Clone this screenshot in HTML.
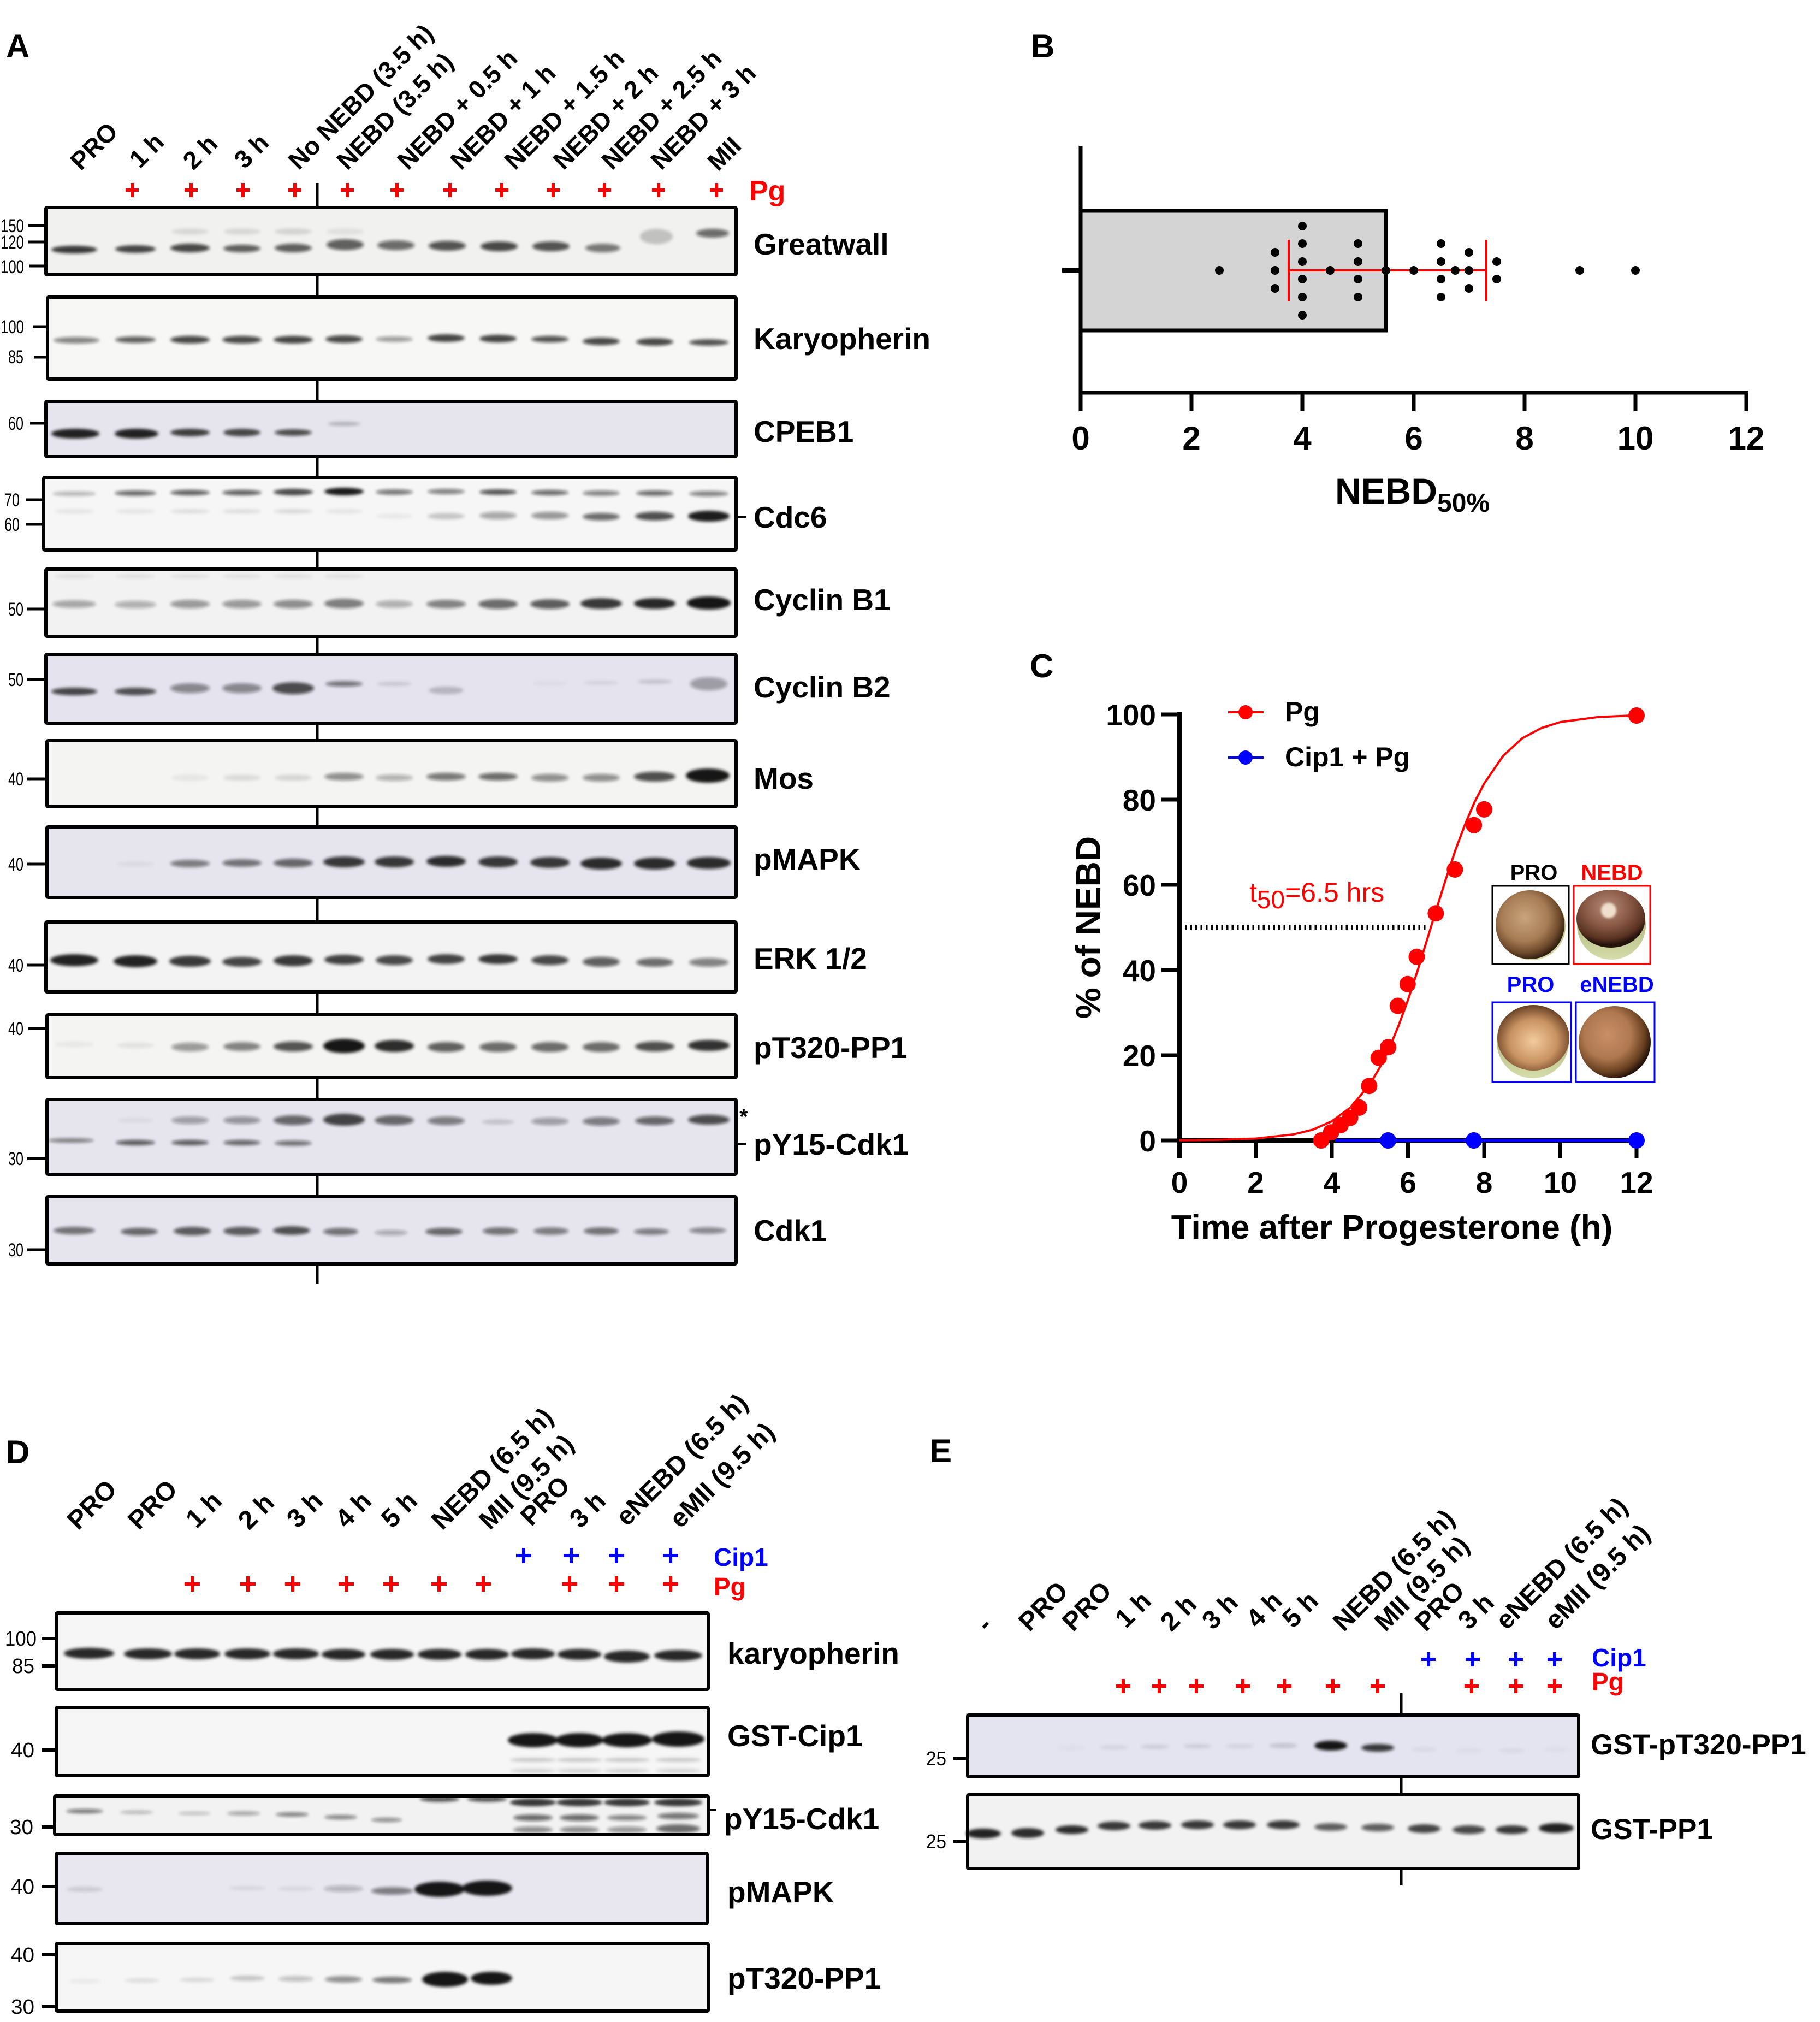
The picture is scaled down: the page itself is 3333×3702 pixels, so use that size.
<!DOCTYPE html>
<html><head><meta charset="utf-8">
<style>
html,body{margin:0;padding:0;background:#fff;}
svg{display:block;}
text{font-family:"Liberation Sans",Arial,sans-serif;}
.b{font-weight:bold;}
</style></head>
<body>
<svg xmlns="http://www.w3.org/2000/svg" width="3333" height="3702" viewBox="0 0 3333 3702">
<defs>
<filter id="bl" x="-5%" y="-150%" width="110%" height="400%"><feGaussianBlur stdDeviation="3"/></filter>
<filter id="bl2" x="-50%" y="-50%" width="200%" height="200%"><feGaussianBlur stdDeviation="2"/></filter>
<radialGradient id="eg1" cx="0.42" cy="0.4" r="0.62">
<stop offset="0" stop-color="#c9a47c"/><stop offset="0.55" stop-color="#a67c55"/><stop offset="0.82" stop-color="#6e4a2c"/><stop offset="1" stop-color="#2e1c0e"/></radialGradient>
<radialGradient id="eg2" cx="0.45" cy="0.3" r="0.65">
<stop offset="0" stop-color="#b48a78"/><stop offset="0.5" stop-color="#8a5a46"/><stop offset="0.85" stop-color="#5a3222"/><stop offset="1" stop-color="#24140c"/></radialGradient>
<radialGradient id="eg3" cx="0.5" cy="0.55" r="0.6">
<stop offset="0" stop-color="#f2cc9e"/><stop offset="0.55" stop-color="#c99262"/><stop offset="0.85" stop-color="#7a5030"/><stop offset="1" stop-color="#3e2612"/></radialGradient>
<radialGradient id="eg4" cx="0.4" cy="0.4" r="0.65">
<stop offset="0" stop-color="#c99068"/><stop offset="0.5" stop-color="#b07850"/><stop offset="0.8" stop-color="#684020"/><stop offset="1" stop-color="#140804"/></radialGradient>
<linearGradient id="grn" x1="0" y1="0" x2="0" y2="1"><stop offset="0" stop-color="#9aa060"/><stop offset="1" stop-color="#d6dcaa"/></linearGradient>
</defs>

<!-- Panel letters -->
<g class="b" font-size="60">
<text x="11" y="105">A</text>
<text x="1888" y="105">B</text>
<text x="1886" y="1240">C</text>
<text x="11" y="2679">D</text>
<text x="1703" y="2677">E</text>
</g>

<!-- ================= PANEL A ================= -->
<g class="b" font-size="46">
<text transform="translate(148,314) rotate(-45)">PRO</text>
<text transform="translate(256,310) rotate(-45)">1 h</text>
<text transform="translate(354,313) rotate(-45)">2 h</text>
<text transform="translate(448,311) rotate(-45)">3 h</text>
<text transform="translate(547,313) rotate(-45)">No NEBD (3.5 h)</text>
<text transform="translate(636,313) rotate(-45)">NEBD (3.5 h)</text>
<text transform="translate(747,313) rotate(-45)">NEBD + 0.5 h</text>
<text transform="translate(844,313) rotate(-45)">NEBD + 1 h</text>
<text transform="translate(943,313) rotate(-45)">NEBD + 1.5 h</text>
<text transform="translate(1032,313) rotate(-45)">NEBD + 2 h</text>
<text transform="translate(1121,313) rotate(-45)">NEBD + 2.5 h</text>
<text transform="translate(1211,313) rotate(-45)">NEBD + 3 h</text>
<text transform="translate(1315,315) rotate(-45)">MII</text>
</g>
<g stroke="#f00" stroke-width="6" fill="none">
<path d="M230 348H254M242 335V361M338 348H362M350 335V361M433 348H457M445 335V361M528 348H552M540 335V361M624 348H648M636 335V361M715 348H739M727 335V361M812 348H836M824 335V361M907 348H931M919 335V361M1001 348H1025M1013 335V361M1095 348H1119M1107 335V361M1194 348H1218M1206 335V361M1300 348H1324M1312 335V361"/>
</g>
<text class="b" x="1372" y="367" font-size="52" fill="#f00">Pg</text>

<!-- divider -->
<line x1="581" y1="335" x2="581" y2="2350" stroke="#000" stroke-width="5"/>

<!-- blot boxes backgrounds -->
<g stroke="none">
<rect x="84" y="377" width="1264" height="129" fill="#f1f1f0"/>
<rect x="84" y="541" width="1264" height="156" fill="#f7f7f5"/>
<rect x="84" y="732" width="1264" height="107" fill="#e6e5ee"/>
<rect x="78" y="871" width="1270" height="139" fill="#f6f6f6"/>
<rect x="84" y="1039" width="1264" height="129" fill="#f2f2f2"/>
<rect x="84" y="1195" width="1264" height="132" fill="#e4e3ee"/>
<rect x="84" y="1353" width="1264" height="127" fill="#f4f4f2"/>
<rect x="84" y="1511" width="1264" height="135" fill="#e6e5ee"/>
<rect x="84" y="1685" width="1264" height="134" fill="#f3f3f3"/>
<rect x="84" y="1855" width="1264" height="121" fill="#f4f4f2"/>
<rect x="84" y="2010" width="1264" height="143" fill="#e6e5ee"/>
<rect x="84" y="2188" width="1264" height="129" fill="#e6e5ee"/>
</g>

<!-- Bands A -->
<g fill="#161616" filter="url(#bl)">
<ellipse cx="136" cy="457" rx="42" ry="7" fill-opacity=".85"/>
<ellipse cx="248" cy="456" rx="37" ry="7" fill-opacity=".8"/>
<ellipse cx="348" cy="454" rx="36" ry="8" fill-opacity=".75"/>
<ellipse cx="443" cy="455" rx="34" ry="7" fill-opacity=".65"/>
<ellipse cx="537" cy="454" rx="34" ry="8" fill-opacity=".65"/>
<ellipse cx="632" cy="448" rx="34" ry="10" fill-opacity=".65"/>
<ellipse cx="725" cy="449" rx="34" ry="9" fill-opacity=".6"/>
<ellipse cx="819" cy="450" rx="34" ry="9" fill-opacity=".7"/>
<ellipse cx="914" cy="451" rx="34" ry="9" fill-opacity=".75"/>
<ellipse cx="1009" cy="451" rx="34" ry="9" fill-opacity=".7"/>
<ellipse cx="1104" cy="454" rx="32" ry="8" fill-opacity=".55"/>
<ellipse cx="1202" cy="433" rx="30" ry="14" fill-opacity=".2"/>
<ellipse cx="1305" cy="427" rx="30" ry="8" fill-opacity=".6"/>
<ellipse cx="348" cy="424" rx="34" ry="6" fill-opacity=".1"/>
<ellipse cx="443" cy="424" rx="34" ry="6" fill-opacity=".1"/>
<ellipse cx="537" cy="424" rx="34" ry="6" fill-opacity=".12"/>
<ellipse cx="632" cy="424" rx="34" ry="6" fill-opacity=".07"/>
</g>
<g fill="#161616" filter="url(#bl)">
<ellipse cx="140" cy="623" rx="42" ry="6" fill-opacity=".5"/>
<ellipse cx="248" cy="622" rx="37" ry="6" fill-opacity=".65"/>
<ellipse cx="348" cy="622" rx="36" ry="7" fill-opacity=".75"/>
<ellipse cx="443" cy="622" rx="36" ry="7" fill-opacity=".75"/>
<ellipse cx="537" cy="622" rx="36" ry="7" fill-opacity=".8"/>
<ellipse cx="630" cy="621" rx="34" ry="7" fill-opacity=".75"/>
<ellipse cx="722" cy="621" rx="34" ry="5" fill-opacity=".4"/>
<ellipse cx="817" cy="619" rx="34" ry="7" fill-opacity=".8"/>
<ellipse cx="912" cy="620" rx="34" ry="7" fill-opacity=".8"/>
<ellipse cx="1007" cy="621" rx="34" ry="6" fill-opacity=".7"/>
<ellipse cx="1101" cy="625" rx="34" ry="7" fill-opacity=".75"/>
<ellipse cx="1199" cy="626" rx="34" ry="7" fill-opacity=".75"/>
<ellipse cx="1298" cy="627" rx="36" ry="6" fill-opacity=".7"/>
</g>
<g fill="#161616" filter="url(#bl)">
<ellipse cx="138" cy="794" rx="44" ry="9" fill-opacity=".95"/>
<ellipse cx="250" cy="794" rx="40" ry="9" fill-opacity=".95"/>
<ellipse cx="348" cy="792" rx="36" ry="7" fill-opacity=".82"/>
<ellipse cx="443" cy="792" rx="34" ry="7" fill-opacity=".78"/>
<ellipse cx="537" cy="792" rx="34" ry="6" fill-opacity=".72"/>
<ellipse cx="630" cy="776" rx="30" ry="4" fill-opacity=".22"/>
</g>
<g fill="#161616" filter="url(#bl)">
<ellipse cx="136" cy="904" rx="40" ry="4" fill-opacity=".3"/>
<ellipse cx="248" cy="903" rx="38" ry="5" fill-opacity=".6"/>
<ellipse cx="348" cy="902" rx="36" ry="5" fill-opacity=".65"/>
<ellipse cx="443" cy="902" rx="36" ry="5" fill-opacity=".65"/>
<ellipse cx="537" cy="901" rx="36" ry="6" fill-opacity=".78"/>
<ellipse cx="630" cy="900" rx="36" ry="7" fill-opacity=".98"/>
<ellipse cx="722" cy="901" rx="34" ry="5" fill-opacity=".55"/>
<ellipse cx="817" cy="900" rx="34" ry="5" fill-opacity=".5"/>
<ellipse cx="912" cy="901" rx="34" ry="5" fill-opacity=".7"/>
<ellipse cx="1007" cy="902" rx="34" ry="5" fill-opacity=".6"/>
<ellipse cx="1101" cy="903" rx="34" ry="5" fill-opacity=".5"/>
<ellipse cx="1199" cy="903" rx="34" ry="5" fill-opacity=".6"/>
<ellipse cx="1298" cy="904" rx="36" ry="5" fill-opacity=".5"/>
<ellipse cx="136" cy="936" rx="36" ry="4" fill-opacity=".08"/>
<ellipse cx="248" cy="936" rx="36" ry="4" fill-opacity=".08"/>
<ellipse cx="348" cy="936" rx="36" ry="4" fill-opacity=".1"/>
<ellipse cx="443" cy="936" rx="36" ry="4" fill-opacity=".1"/>
<ellipse cx="537" cy="936" rx="36" ry="4" fill-opacity=".12"/>
<ellipse cx="630" cy="936" rx="34" ry="4" fill-opacity=".08"/>
<ellipse cx="722" cy="945" rx="34" ry="5" fill-opacity=".05"/>
<ellipse cx="817" cy="945" rx="34" ry="6" fill-opacity=".2"/>
<ellipse cx="912" cy="944" rx="34" ry="7" fill-opacity=".35"/>
<ellipse cx="1007" cy="944" rx="34" ry="7" fill-opacity=".42"/>
<ellipse cx="1101" cy="946" rx="34" ry="7" fill-opacity=".6"/>
<ellipse cx="1199" cy="945" rx="36" ry="8" fill-opacity=".72"/>
<ellipse cx="1298" cy="945" rx="38" ry="10" fill-opacity=".97"/>
</g>
<g fill="#161616" filter="url(#bl)">
<ellipse cx="136" cy="1106" rx="40" ry="7" fill-opacity=".35"/>
<ellipse cx="248" cy="1107" rx="38" ry="7" fill-opacity=".3"/>
<ellipse cx="348" cy="1106" rx="36" ry="8" fill-opacity=".4"/>
<ellipse cx="443" cy="1106" rx="36" ry="8" fill-opacity=".4"/>
<ellipse cx="537" cy="1106" rx="36" ry="8" fill-opacity=".45"/>
<ellipse cx="630" cy="1105" rx="36" ry="9" fill-opacity=".52"/>
<ellipse cx="722" cy="1106" rx="34" ry="7" fill-opacity=".3"/>
<ellipse cx="817" cy="1106" rx="36" ry="8" fill-opacity=".5"/>
<ellipse cx="912" cy="1106" rx="36" ry="9" fill-opacity=".6"/>
<ellipse cx="1007" cy="1106" rx="36" ry="9" fill-opacity=".66"/>
<ellipse cx="1101" cy="1105" rx="38" ry="10" fill-opacity=".85"/>
<ellipse cx="1199" cy="1105" rx="38" ry="10" fill-opacity=".92"/>
<ellipse cx="1298" cy="1104" rx="40" ry="12" fill-opacity="1"/>
<ellipse cx="136" cy="1055" rx="36" ry="4" fill-opacity=".08"/>
<ellipse cx="248" cy="1055" rx="36" ry="4" fill-opacity=".08"/>
<ellipse cx="348" cy="1055" rx="36" ry="4" fill-opacity=".08"/>
<ellipse cx="443" cy="1055" rx="36" ry="4" fill-opacity=".08"/>
<ellipse cx="537" cy="1055" rx="36" ry="4" fill-opacity=".08"/>
<ellipse cx="630" cy="1055" rx="36" ry="4" fill-opacity=".08"/>
</g>
<g fill="#161616" filter="url(#bl)">
<ellipse cx="136" cy="1266" rx="42" ry="7" fill-opacity=".75"/>
<ellipse cx="248" cy="1266" rx="38" ry="7" fill-opacity=".7"/>
<ellipse cx="348" cy="1260" rx="36" ry="9" fill-opacity=".45"/>
<ellipse cx="443" cy="1260" rx="36" ry="9" fill-opacity=".45"/>
<ellipse cx="537" cy="1260" rx="38" ry="11" fill-opacity=".72"/>
<ellipse cx="630" cy="1252" rx="34" ry="5" fill-opacity=".55"/>
<ellipse cx="722" cy="1252" rx="32" ry="4" fill-opacity=".12"/>
<ellipse cx="817" cy="1264" rx="32" ry="7" fill-opacity=".2"/>
<ellipse cx="1007" cy="1251" rx="32" ry="4" fill-opacity=".04"/>
<ellipse cx="1101" cy="1250" rx="32" ry="4" fill-opacity=".07"/>
<ellipse cx="1199" cy="1248" rx="32" ry="4" fill-opacity=".14"/>
<ellipse cx="1298" cy="1252" rx="34" ry="12" fill-opacity=".35"/>
</g>
<g fill="#161616" filter="url(#bl)">
<ellipse cx="348" cy="1424" rx="34" ry="6" fill-opacity=".06"/>
<ellipse cx="443" cy="1424" rx="34" ry="6" fill-opacity=".1"/>
<ellipse cx="537" cy="1424" rx="34" ry="6" fill-opacity=".12"/>
<ellipse cx="630" cy="1422" rx="36" ry="7" fill-opacity=".45"/>
<ellipse cx="722" cy="1424" rx="34" ry="6" fill-opacity=".3"/>
<ellipse cx="817" cy="1422" rx="36" ry="7" fill-opacity=".55"/>
<ellipse cx="912" cy="1422" rx="36" ry="7" fill-opacity=".6"/>
<ellipse cx="1007" cy="1424" rx="34" ry="7" fill-opacity=".45"/>
<ellipse cx="1101" cy="1424" rx="34" ry="7" fill-opacity=".45"/>
<ellipse cx="1199" cy="1422" rx="38" ry="9" fill-opacity=".72"/>
<ellipse cx="1296" cy="1420" rx="40" ry="13" fill-opacity="1"/>
</g>
<g fill="#161616" filter="url(#bl)">
<ellipse cx="248" cy="1582" rx="34" ry="5" fill-opacity=".05"/>
<ellipse cx="348" cy="1581" rx="36" ry="7" fill-opacity=".5"/>
<ellipse cx="443" cy="1580" rx="36" ry="7" fill-opacity=".55"/>
<ellipse cx="537" cy="1580" rx="36" ry="8" fill-opacity=".6"/>
<ellipse cx="630" cy="1578" rx="38" ry="10" fill-opacity=".85"/>
<ellipse cx="722" cy="1578" rx="36" ry="10" fill-opacity=".85"/>
<ellipse cx="817" cy="1577" rx="36" ry="10" fill-opacity=".9"/>
<ellipse cx="912" cy="1578" rx="36" ry="10" fill-opacity=".85"/>
<ellipse cx="1007" cy="1579" rx="36" ry="10" fill-opacity=".85"/>
<ellipse cx="1101" cy="1581" rx="38" ry="11" fill-opacity=".9"/>
<ellipse cx="1199" cy="1581" rx="38" ry="11" fill-opacity=".9"/>
<ellipse cx="1298" cy="1580" rx="40" ry="11" fill-opacity=".9"/>
</g>
<g fill="#161616" filter="url(#bl)">
<ellipse cx="136" cy="1758" rx="44" ry="11" fill-opacity=".95"/>
<ellipse cx="248" cy="1760" rx="40" ry="11" fill-opacity=".95"/>
<ellipse cx="348" cy="1760" rx="38" ry="10" fill-opacity=".85"/>
<ellipse cx="443" cy="1761" rx="36" ry="9" fill-opacity=".8"/>
<ellipse cx="537" cy="1759" rx="36" ry="10" fill-opacity=".85"/>
<ellipse cx="630" cy="1757" rx="36" ry="9" fill-opacity=".82"/>
<ellipse cx="722" cy="1758" rx="34" ry="9" fill-opacity=".75"/>
<ellipse cx="817" cy="1756" rx="34" ry="9" fill-opacity=".8"/>
<ellipse cx="912" cy="1756" rx="36" ry="9" fill-opacity=".85"/>
<ellipse cx="1007" cy="1758" rx="34" ry="9" fill-opacity=".75"/>
<ellipse cx="1101" cy="1761" rx="34" ry="9" fill-opacity=".65"/>
<ellipse cx="1199" cy="1762" rx="34" ry="8" fill-opacity=".6"/>
<ellipse cx="1298" cy="1762" rx="36" ry="8" fill-opacity=".5"/>
</g>
<g fill="#161616" filter="url(#bl)">
<ellipse cx="136" cy="1912" rx="36" ry="5" fill-opacity=".05"/>
<ellipse cx="248" cy="1914" rx="34" ry="5" fill-opacity=".08"/>
<ellipse cx="348" cy="1917" rx="34" ry="8" fill-opacity=".4"/>
<ellipse cx="443" cy="1916" rx="34" ry="8" fill-opacity=".5"/>
<ellipse cx="537" cy="1916" rx="36" ry="9" fill-opacity=".7"/>
<ellipse cx="630" cy="1915" rx="38" ry="13" fill-opacity="1"/>
<ellipse cx="722" cy="1915" rx="36" ry="11" fill-opacity=".9"/>
<ellipse cx="817" cy="1917" rx="34" ry="9" fill-opacity=".65"/>
<ellipse cx="912" cy="1917" rx="34" ry="9" fill-opacity=".6"/>
<ellipse cx="1007" cy="1917" rx="34" ry="9" fill-opacity=".6"/>
<ellipse cx="1101" cy="1917" rx="34" ry="9" fill-opacity=".6"/>
<ellipse cx="1199" cy="1916" rx="36" ry="9" fill-opacity=".72"/>
<ellipse cx="1298" cy="1914" rx="38" ry="10" fill-opacity=".88"/>
</g>
<g fill="#161616" filter="url(#bl)">
<ellipse cx="248" cy="2051" rx="32" ry="5" fill-opacity=".05"/>
<ellipse cx="348" cy="2051" rx="34" ry="7" fill-opacity=".35"/>
<ellipse cx="443" cy="2051" rx="34" ry="7" fill-opacity=".4"/>
<ellipse cx="537" cy="2051" rx="36" ry="9" fill-opacity=".6"/>
<ellipse cx="630" cy="2050" rx="38" ry="11" fill-opacity=".8"/>
<ellipse cx="722" cy="2051" rx="36" ry="9" fill-opacity=".6"/>
<ellipse cx="817" cy="2052" rx="34" ry="8" fill-opacity=".5"/>
<ellipse cx="912" cy="2054" rx="30" ry="5" fill-opacity=".15"/>
<ellipse cx="1007" cy="2053" rx="34" ry="7" fill-opacity=".35"/>
<ellipse cx="1101" cy="2053" rx="34" ry="8" fill-opacity=".5"/>
<ellipse cx="1199" cy="2052" rx="36" ry="8" fill-opacity=".6"/>
<ellipse cx="1298" cy="2050" rx="38" ry="9" fill-opacity=".72"/>
<ellipse cx="130" cy="2088" rx="42" ry="4" fill-opacity=".5"/>
<ellipse cx="248" cy="2092" rx="36" ry="5" fill-opacity=".65"/>
<ellipse cx="348" cy="2092" rx="34" ry="5" fill-opacity=".65"/>
<ellipse cx="443" cy="2092" rx="34" ry="5" fill-opacity=".6"/>
<ellipse cx="537" cy="2093" rx="34" ry="5" fill-opacity=".55"/>
</g>
<g fill="#161616" filter="url(#bl)">
<ellipse cx="136" cy="2253" rx="38" ry="7" fill-opacity=".55"/>
<ellipse cx="255" cy="2255" rx="34" ry="7" fill-opacity=".6"/>
<ellipse cx="352" cy="2254" rx="34" ry="8" fill-opacity=".65"/>
<ellipse cx="443" cy="2254" rx="34" ry="8" fill-opacity=".65"/>
<ellipse cx="534" cy="2253" rx="34" ry="8" fill-opacity=".7"/>
<ellipse cx="624" cy="2255" rx="32" ry="7" fill-opacity=".55"/>
<ellipse cx="716" cy="2257" rx="30" ry="5" fill-opacity=".3"/>
<ellipse cx="813" cy="2255" rx="34" ry="7" fill-opacity=".6"/>
<ellipse cx="916" cy="2254" rx="32" ry="7" fill-opacity=".55"/>
<ellipse cx="1009" cy="2254" rx="32" ry="7" fill-opacity=".5"/>
<ellipse cx="1101" cy="2254" rx="32" ry="7" fill-opacity=".55"/>
<ellipse cx="1193" cy="2255" rx="32" ry="6" fill-opacity=".5"/>
<ellipse cx="1296" cy="2253" rx="34" ry="6" fill-opacity=".45"/>
</g>

<!-- blot box borders A -->
<g fill="none" stroke="#000" stroke-width="6">
<rect x="84" y="380" width="1264" height="123" rx="2"/>
<rect x="87" y="544" width="1261" height="150" rx="2"/>
<rect x="84" y="735" width="1264" height="101" rx="2"/>
<rect x="80" y="874" width="1268" height="133" rx="2"/>
<rect x="84" y="1042" width="1264" height="123" rx="2"/>
<rect x="84" y="1198" width="1264" height="126" rx="2"/>
<rect x="86" y="1356" width="1262" height="121" rx="2"/>
<rect x="86" y="1514" width="1262" height="129" rx="2"/>
<rect x="84" y="1688" width="1264" height="128" rx="2"/>
<rect x="86" y="1858" width="1262" height="115" rx="2"/>
<rect x="86" y="2013" width="1262" height="137" rx="2"/>
<rect x="86" y="2191" width="1262" height="123" rx="2"/>
</g>

<!-- MW markers A -->
<g font-size="34" fill="#000">
<text x="1" y="425" textLength="43" lengthAdjust="spacingAndGlyphs">150</text>
<text x="1" y="455" textLength="43" lengthAdjust="spacingAndGlyphs">120</text>
<text x="1" y="500" textLength="43" lengthAdjust="spacingAndGlyphs">100</text>
<text x="1" y="610" textLength="43" lengthAdjust="spacingAndGlyphs">100</text>
<text x="15" y="665" textLength="28" lengthAdjust="spacingAndGlyphs">85</text>
<text x="15" y="787" textLength="28" lengthAdjust="spacingAndGlyphs">60</text>
<text x="8" y="927" textLength="28" lengthAdjust="spacingAndGlyphs">70</text>
<text x="8" y="972" textLength="28" lengthAdjust="spacingAndGlyphs">60</text>
<text x="15" y="1127" textLength="28" lengthAdjust="spacingAndGlyphs">50</text>
<text x="15" y="1256" textLength="28" lengthAdjust="spacingAndGlyphs">50</text>
<text x="15" y="1438" textLength="28" lengthAdjust="spacingAndGlyphs">40</text>
<text x="15" y="1594" textLength="28" lengthAdjust="spacingAndGlyphs">40</text>
<text x="15" y="1779" textLength="28" lengthAdjust="spacingAndGlyphs">40</text>
<text x="15" y="1895" textLength="28" lengthAdjust="spacingAndGlyphs">40</text>
<text x="15" y="2133" textLength="28" lengthAdjust="spacingAndGlyphs">30</text>
<text x="15" y="2300" textLength="28" lengthAdjust="spacingAndGlyphs">30</text>
</g>
<g stroke="#000" stroke-width="5">
<path d="M52 413H82M52 443H82M54 487H82M60 598H86M62 654H86M55 775H82M48 915H78M48 960H78M50 1115H82M50 1244H82M50 1426H82M50 1582H82M50 1767H82M52 1883H84M50 2121H84M50 2288H84"/>
<path d="M1350 946H1366M1350 2094H1366" stroke-width="4"/>
</g>
<text class="b" x="1354" y="2058" font-size="40">*</text>

<!-- Labels A -->
<g class="b" font-size="55">
<text x="1380" y="466">Greatwall</text>
<text x="1380" y="639">Karyopherin</text>
<text x="1380" y="809">CPEB1</text>
<text x="1380" y="966">Cdc6</text>
<text x="1380" y="1117">Cyclin B1</text>
<text x="1380" y="1277">Cyclin B2</text>
<text x="1380" y="1444">Mos</text>
<text x="1380" y="1592">pMAPK</text>
<text x="1380" y="1774">ERK 1/2</text>
<text x="1380" y="1937">pT320-PP1</text>
<text x="1380" y="2114">pY15-Cdk1</text>
<text x="1380" y="2272">Cdk1</text>
</g>

<!-- ================= PANEL B ================= -->
<rect x="1979" y="386" width="559" height="219" fill="#d4d4d4" stroke="#000" stroke-width="7"/>
<g stroke="#000" stroke-width="7" fill="none">
<line x1="1979" y1="267" x2="1979" y2="753"/>
<line x1="1976" y1="719" x2="3201" y2="719"/>
<path d="M2182 719V753M2385 719V753M2589 719V753M2792 719V753M2995 719V753M3198 719V753"/>
<line x1="1945" y1="495" x2="1979" y2="495" stroke-width="8"/>
</g>
<g stroke="#f00" stroke-width="4" fill="none">
<line x1="2360" y1="495" x2="2722" y2="495"/>
<line x1="2360" y1="439" x2="2360" y2="552"/>
<line x1="2722" y1="439" x2="2722" y2="552"/>
</g>
<g fill="#000">
<circle cx="2233" cy="495" r="8"/>
<circle cx="2335" cy="462" r="8"/><circle cx="2335" cy="495" r="8"/><circle cx="2335" cy="528" r="8"/>
<circle cx="2385" cy="414" r="8"/><circle cx="2385" cy="446" r="8"/><circle cx="2385" cy="479" r="8"/><circle cx="2385" cy="511" r="8"/><circle cx="2385" cy="544" r="8"/><circle cx="2385" cy="577" r="8"/>
<circle cx="2436" cy="495" r="8"/>
<circle cx="2487" cy="446" r="8"/><circle cx="2487" cy="479" r="8"/><circle cx="2487" cy="511" r="8"/><circle cx="2487" cy="544" r="8"/>
<circle cx="2538" cy="495" r="8"/>
<circle cx="2589" cy="495" r="8"/>
<circle cx="2639" cy="446" r="8"/><circle cx="2639" cy="479" r="8"/><circle cx="2639" cy="511" r="8"/><circle cx="2639" cy="544" r="8"/>
<circle cx="2665" cy="495" r="8"/>
<circle cx="2690" cy="462" r="8"/><circle cx="2690" cy="495" r="8"/><circle cx="2690" cy="528" r="8"/>
<circle cx="2741" cy="479" r="8"/><circle cx="2741" cy="511" r="8"/>
<circle cx="2893" cy="495" r="8"/>
<circle cx="2995" cy="495" r="8"/>
</g>
<g class="b" font-size="60" text-anchor="middle">
<text x="1979" y="823">0</text>
<text x="2182" y="823">2</text>
<text x="2385" y="823">4</text>
<text x="2589" y="823">6</text>
<text x="2792" y="823">8</text>
<text x="2995" y="823">10</text>
<text x="3198" y="823">12</text>
</g>
<text class="b" x="2445" y="922" font-size="66">NEBD<tspan font-size="48" dy="15">50%</tspan></text>

<!-- ================= PANEL C ================= -->
<g stroke="#000" stroke-width="8" fill="none">
<line x1="2160" y1="1304" x2="2160" y2="2120"/>
<line x1="2156" y1="2088" x2="3001" y2="2088"/>
</g>
<g stroke="#000" stroke-width="7" fill="none">
<path d="M2127 1308H2160M2127 1464H2160M2127 1620H2160M2127 1776H2160M2127 1932H2160M2127 2088H2160"/>
<path d="M2299.5 2088V2120M2439 2088V2120M2578.5 2088V2120M2718 2088V2120M2857.5 2088V2120M2997 2088V2120"/>
</g>
<g class="b" font-size="55" text-anchor="end">
<text x="2117" y="1328">100</text>
<text x="2117" y="1484">80</text>
<text x="2117" y="1640">60</text>
<text x="2117" y="1796">40</text>
<text x="2117" y="1952">20</text>
<text x="2117" y="2108">0</text>
</g>
<g class="b" font-size="55" text-anchor="middle">
<text x="2160" y="2184">0</text>
<text x="2299.5" y="2184">2</text>
<text x="2439" y="2184">4</text>
<text x="2578.5" y="2184">6</text>
<text x="2718" y="2184">8</text>
<text x="2857.5" y="2184">10</text>
<text x="2997" y="2184">12</text>
</g>
<text class="b" x="2549" y="2268" font-size="62" text-anchor="middle">Time after Progesterone (h)</text>
<text class="b" transform="translate(2015,1698) rotate(-90)" font-size="64" text-anchor="middle">% of NEBD</text>

<line x1="2170" y1="1698" x2="2613" y2="1698" stroke="#000" stroke-width="10" stroke-dasharray="3.5 6"/>
<text x="2288" y="1651" font-size="50" fill="#f00">t<tspan font-size="46" dy="12">50</tspan><tspan dy="-12">=6.5 hrs</tspan></text>

<line x1="2445" y1="2088" x2="2997" y2="2088" stroke="#00f" stroke-width="6"/>
<polyline fill="none" stroke="#f00" stroke-width="4" points="2160,2087.7 2229.75,2086.9 2299.5,2084.6 2369.25,2076.8 2404.1,2068.2 2439,2053 2473.9,2027.2 2508.75,1985 2526.2,1955.6 2543.6,1920.3 2561.1,1878.2 2578.5,1830.6 2595.9,1777.6 2613.4,1720.6 2630.8,1663.7 2648.25,1608.3 2665.7,1555.3 2683.1,1509.2 2700.6,1467.9 2718,1434.4 2752.9,1383.7 2787.75,1351.7 2822.6,1333 2857.5,1322 2927.25,1312.7 2997,1309.6"/>
<g fill="#f00">
<circle cx="2419.5" cy="2088" r="15"/>
<circle cx="2437.6" cy="2073.2" r="15"/>
<circle cx="2455" cy="2059.9" r="15"/>
<circle cx="2472.5" cy="2046.7" r="15"/>
<circle cx="2489.2" cy="2027.9" r="15"/>
<circle cx="2507.4" cy="1988.2" r="15"/>
<circle cx="2524.8" cy="1936.7" r="15"/>
<circle cx="2542.2" cy="1917.2" r="15"/>
<circle cx="2559.7" cy="1841.5" r="15"/>
<circle cx="2577.8" cy="1801.7" r="15"/>
<circle cx="2594.5" cy="1751.8" r="15"/>
<circle cx="2629.4" cy="1672.3" r="15"/>
<circle cx="2664.3" cy="1591.9" r="15"/>
<circle cx="2699.2" cy="1510.8" r="15"/>
<circle cx="2718" cy="1481.9" r="15"/>
<circle cx="2997" cy="1310" r="15"/>
</g>
<g fill="#00f">
<circle cx="2542" cy="2088" r="15"/>
<circle cx="2699" cy="2088" r="15"/>
<circle cx="2997" cy="2088" r="15"/>
</g>
<line x1="2249" y1="1304" x2="2314" y2="1304" stroke="#f00" stroke-width="4"/>
<circle cx="2281" cy="1304" r="13" fill="#f00"/>
<line x1="2249" y1="1387" x2="2314" y2="1387" stroke="#00f" stroke-width="4"/>
<circle cx="2281" cy="1387" r="13" fill="#00f"/>
<text class="b" x="2353" y="1320" font-size="50">Pg</text>
<text class="b" x="2353" y="1403" font-size="50">Cip1 + Pg</text>

<g class="b" font-size="40" text-anchor="middle">
<text x="2809" y="1611" fill="#000">PRO</text>
<text x="2952" y="1611" fill="#f00">NEBD</text>
<text x="2803" y="1816" fill="#00f">PRO</text>
<text x="2961" y="1816" fill="#00f">eNEBD</text>
</g>
<circle cx="2805" cy="1696" r="62" fill="url(#grn)"/>
<circle cx="2802" cy="1693" r="63" fill="url(#eg1)"/>
<circle cx="2951" cy="1694" r="63" fill="url(#grn)"/>
<ellipse cx="2950" cy="1682" rx="63" ry="53" fill="url(#eg2)"/>
<circle cx="2946" cy="1667" r="14" fill="#eee0cc" filter="url(#bl2)"/>
<circle cx="2807" cy="1908" r="66" fill="url(#grn)"/>
<ellipse cx="2808" cy="1900" rx="66" ry="60" fill="url(#eg3)"/>
<circle cx="2957" cy="1908" r="66" fill="url(#eg4)"/>
<g fill="none" stroke-width="3">
<rect x="2733" y="1622" width="140" height="143" stroke="#000"/>
<rect x="2882" y="1622" width="140" height="143" stroke="#f00"/>
<rect x="2733" y="1835" width="144" height="146" stroke="#00f"/>
<rect x="2886" y="1835" width="144" height="146" stroke="#00f"/>
</g>

<!-- ================= PANEL D ================= -->
<g class="b" font-size="48">
<text transform="translate(143,2803) rotate(-45)">PRO</text>
<text transform="translate(254,2803) rotate(-45)">PRO</text>
<text transform="translate(360,2800) rotate(-45)">1 h</text>
<text transform="translate(456,2803) rotate(-45)">2 h</text>
<text transform="translate(545,2800) rotate(-45)">3 h</text>
<text transform="translate(634,2800) rotate(-45)">4 h</text>
<text transform="translate(718,2800) rotate(-45)">5 h</text>
<text transform="translate(810,2803) rotate(-45)">NEBD (6.5 h)</text>
<text transform="translate(897,2803) rotate(-45)">MII (9.5 h)</text>
<text transform="translate(973,2796) rotate(-45)">PRO</text>
<text transform="translate(1063,2800) rotate(-45)">3 h</text>
<text transform="translate(1148,2796) rotate(-45)">eNEBD (6.5 h)</text>
<text transform="translate(1246,2800) rotate(-45)">eMII (9.5 h)</text>
</g>
<g stroke="#00f" stroke-width="6">
<path d="M945 2848H973M959 2834V2862M1032 2848H1060M1046 2834V2862M1115 2848H1143M1129 2834V2862M1214 2848H1242M1228 2834V2862"/>
</g>
<g stroke="#f00" stroke-width="6">
<path d="M338 2900H366M352 2886V2914M440 2900H468M454 2886V2914M522 2900H550M536 2886V2914M620 2900H648M634 2886V2914M702 2900H730M716 2886V2914M790 2900H818M804 2886V2914M871 2900H899M885 2886V2914M1029 2900H1057M1043 2886V2914M1115 2900H1143M1129 2886V2914M1214 2900H1242M1228 2886V2914"/>
</g>
<text class="b" x="1307" y="2867" font-size="46" fill="#00f">Cip1</text>
<text class="b" x="1307" y="2921" font-size="46" fill="#f00">Pg</text>

<g stroke="none">
<rect x="103" y="2950" width="1194" height="146" fill="#f6f6f6"/>
<rect x="103" y="3123" width="1194" height="131" fill="#f6f6f6"/>
<rect x="100" y="3285" width="1197" height="77" fill="#f2f2f2"/>
<rect x="103" y="3390" width="1192" height="135" fill="#e8e7f0"/>
<rect x="103" y="3555" width="1194" height="130" fill="#f6f6f6"/>
</g>
<g fill="#161616" filter="url(#bl)">
<ellipse cx="163" cy="3027" rx="46" ry="10" fill-opacity=".92"/>
<ellipse cx="271" cy="3028" rx="44" ry="10" fill-opacity=".92"/>
<ellipse cx="361" cy="3028" rx="42" ry="10" fill-opacity=".92"/>
<ellipse cx="453" cy="3028" rx="42" ry="10" fill-opacity=".92"/>
<ellipse cx="542" cy="3028" rx="42" ry="10" fill-opacity=".92"/>
<ellipse cx="629" cy="3029" rx="40" ry="10" fill-opacity=".92"/>
<ellipse cx="718" cy="3029" rx="40" ry="10" fill-opacity=".92"/>
<ellipse cx="805" cy="3029" rx="40" ry="10" fill-opacity=".92"/>
<ellipse cx="892" cy="3029" rx="40" ry="10" fill-opacity=".92"/>
<ellipse cx="976" cy="3028" rx="40" ry="10" fill-opacity=".92"/>
<ellipse cx="1061" cy="3029" rx="40" ry="10" fill-opacity=".92"/>
<ellipse cx="1148" cy="3033" rx="42" ry="11" fill-opacity=".92"/>
<ellipse cx="1242" cy="3031" rx="44" ry="10" fill-opacity=".92"/>
</g>
<g fill="#161616" filter="url(#bl)">
<ellipse cx="976" cy="3186" rx="46" ry="13" fill-opacity="1"/>
<ellipse cx="1061" cy="3186" rx="44" ry="13" fill-opacity="1"/>
<ellipse cx="1148" cy="3186" rx="46" ry="13" fill-opacity="1"/>
<ellipse cx="1242" cy="3184" rx="48" ry="14" fill-opacity="1"/>
<ellipse cx="976" cy="3222" rx="42" ry="4" fill-opacity=".18"/>
<ellipse cx="1061" cy="3222" rx="42" ry="4" fill-opacity=".18"/>
<ellipse cx="1148" cy="3222" rx="42" ry="4" fill-opacity=".18"/>
<ellipse cx="1242" cy="3222" rx="42" ry="4" fill-opacity=".18"/>
<ellipse cx="976" cy="3242" rx="42" ry="4" fill-opacity=".14"/>
<ellipse cx="1061" cy="3242" rx="42" ry="4" fill-opacity=".14"/>
<ellipse cx="1148" cy="3242" rx="42" ry="4" fill-opacity=".14"/>
<ellipse cx="1242" cy="3242" rx="42" ry="4" fill-opacity=".14"/>
</g>
<g fill="#161616" filter="url(#bl)">
<ellipse cx="155" cy="3316" rx="34" ry="4" fill-opacity=".55"/>
<ellipse cx="250" cy="3318" rx="30" ry="3" fill-opacity=".3"/>
<ellipse cx="356" cy="3320" rx="30" ry="3" fill-opacity=".25"/>
<ellipse cx="446" cy="3320" rx="30" ry="4" fill-opacity=".35"/>
<ellipse cx="535" cy="3322" rx="30" ry="4" fill-opacity=".5"/>
<ellipse cx="624" cy="3327" rx="30" ry="4" fill-opacity=".5"/>
<ellipse cx="708" cy="3332" rx="28" ry="4" fill-opacity=".45"/>
<ellipse cx="805" cy="3294" rx="36" ry="5" fill-opacity=".7"/>
<ellipse cx="892" cy="3294" rx="36" ry="5" fill-opacity=".7"/>
<ellipse cx="976" cy="3300" rx="42" ry="7" fill-opacity=".85"/>
<ellipse cx="1061" cy="3300" rx="42" ry="7" fill-opacity=".85"/>
<ellipse cx="1148" cy="3300" rx="42" ry="7" fill-opacity=".85"/>
<ellipse cx="1242" cy="3300" rx="44" ry="7" fill-opacity=".85"/>
<ellipse cx="976" cy="3328" rx="36" ry="6" fill-opacity=".6"/>
<ellipse cx="1061" cy="3328" rx="36" ry="6" fill-opacity=".6"/>
<ellipse cx="1148" cy="3328" rx="36" ry="5" fill-opacity=".5"/>
<ellipse cx="1242" cy="3325" rx="38" ry="6" fill-opacity=".55"/>
<ellipse cx="976" cy="3350" rx="36" ry="6" fill-opacity=".45"/>
<ellipse cx="1061" cy="3350" rx="36" ry="6" fill-opacity=".45"/>
<ellipse cx="1148" cy="3350" rx="36" ry="6" fill-opacity=".4"/>
<ellipse cx="1242" cy="3348" rx="40" ry="8" fill-opacity=".6"/>
</g>
<g fill="#161616" filter="url(#bl)">
<ellipse cx="155" cy="3459" rx="34" ry="5" fill-opacity=".12"/>
<ellipse cx="453" cy="3457" rx="34" ry="4" fill-opacity=".08"/>
<ellipse cx="542" cy="3458" rx="34" ry="4" fill-opacity=".08"/>
<ellipse cx="629" cy="3458" rx="36" ry="6" fill-opacity=".25"/>
<ellipse cx="718" cy="3462" rx="38" ry="7" fill-opacity=".5"/>
<ellipse cx="805" cy="3459" rx="46" ry="14" fill-opacity="1"/>
<ellipse cx="892" cy="3457" rx="46" ry="14" fill-opacity="1"/>
</g>
<g fill="#161616" filter="url(#bl)">
<ellipse cx="155" cy="3627" rx="30" ry="4" fill-opacity=".05"/>
<ellipse cx="260" cy="3626" rx="32" ry="4" fill-opacity=".1"/>
<ellipse cx="361" cy="3625" rx="32" ry="4" fill-opacity=".12"/>
<ellipse cx="453" cy="3622" rx="32" ry="5" fill-opacity=".2"/>
<ellipse cx="542" cy="3623" rx="32" ry="5" fill-opacity=".25"/>
<ellipse cx="629" cy="3624" rx="34" ry="6" fill-opacity=".45"/>
<ellipse cx="718" cy="3625" rx="36" ry="6" fill-opacity=".55"/>
<ellipse cx="815" cy="3624" rx="42" ry="14" fill-opacity="1"/>
<ellipse cx="900" cy="3622" rx="38" ry="12" fill-opacity="1"/>
</g>
<g fill="none" stroke="#000" stroke-width="6">
<rect x="103" y="2953" width="1194" height="140" rx="2"/>
<rect x="103" y="3126" width="1194" height="125" rx="2"/>
<rect x="100" y="3288" width="1197" height="71" rx="2"/>
<rect x="103" y="3393" width="1192" height="129" rx="2"/>
<rect x="103" y="3558" width="1194" height="124" rx="2"/>
</g>
<g font-size="38" fill="#000">
<text x="9" y="3013" textLength="58" lengthAdjust="spacingAndGlyphs">100</text>
<text x="22" y="3063" textLength="41" lengthAdjust="spacingAndGlyphs">85</text>
<text x="20" y="3217" textLength="43" lengthAdjust="spacingAndGlyphs">40</text>
<text x="18" y="3358" textLength="43" lengthAdjust="spacingAndGlyphs">30</text>
<text x="20" y="3467" textLength="43" lengthAdjust="spacingAndGlyphs">40</text>
<text x="20" y="3592" textLength="43" lengthAdjust="spacingAndGlyphs">40</text>
<text x="20" y="3687" textLength="43" lengthAdjust="spacingAndGlyphs">30</text>
</g>
<g stroke="#000" stroke-width="6">
<path d="M76 3000H103M76 3050H103M76 3204H103M76 3345H100M76 3454H103M76 3579H103M76 3674H103"/>
<path d="M1299 3314H1312" stroke-width="4"/>
</g>
<g class="b" font-size="55">
<text x="1332" y="3046">karyopherin</text>
<text x="1332" y="3197">GST-Cip1</text>
<text x="1326" y="3349">pY15-Cdk1</text>
<text x="1332" y="3483">pMAPK</text>
<text x="1332" y="3641">pT320-PP1</text>
</g>

<!-- ================= PANEL E ================= -->
<g class="b" font-size="48">
<text transform="translate(1808,2990) rotate(-45)">-</text>
<text transform="translate(1885,2989) rotate(-45)">PRO</text>
<text transform="translate(1965,2989) rotate(-45)">PRO</text>
<text transform="translate(2062,2983) rotate(-45)">1 h</text>
<text transform="translate(2145,2989) rotate(-45)">2 h</text>
<text transform="translate(2221,2986) rotate(-45)">3 h</text>
<text transform="translate(2302,2983) rotate(-45)">4 h</text>
<text transform="translate(2368,2983) rotate(-45)">5 h</text>
<text transform="translate(2461,2989) rotate(-45)">NEBD (6.5 h)</text>
<text transform="translate(2537,2989) rotate(-45)">MII (9.5 h)</text>
<text transform="translate(2611,2989) rotate(-45)">PRO</text>
<text transform="translate(2690,2986) rotate(-45)">3 h</text>
<text transform="translate(2759,2986) rotate(-45)">eNEBD (6.5 h)</text>
<text transform="translate(2849,2986) rotate(-45)">eMII (9.5 h)</text>
</g>
<g stroke="#00f" stroke-width="6">
<path d="M2603 3038H2629M2616 3025V3051M2684 3038H2710M2697 3025V3051M2763 3038H2789M2776 3025V3051M2834 3038H2860M2847 3025V3051"/>
</g>
<g stroke="#f00" stroke-width="6">
<path d="M2044 3087H2070M2057 3074V3100M2110 3087H2136M2123 3074V3100M2178 3087H2204M2191 3074V3100M2263 3087H2289M2276 3074V3100M2339 3087H2365M2352 3074V3100M2428 3087H2454M2441 3074V3100M2510 3087H2536M2523 3074V3100M2682 3087H2708M2695 3074V3100M2763 3087H2789M2776 3074V3100M2834 3087H2860M2847 3074V3100"/>
</g>
<text class="b" x="2915" y="3051" font-size="46" fill="#00f">Cip1</text>
<text class="b" x="2915" y="3095" font-size="46" fill="#f00">Pg</text>

<line x1="2566" y1="3100" x2="2566" y2="3452" stroke="#000" stroke-width="5"/>
<rect x="1769" y="3137" width="1125" height="119" fill="#e4e3f0"/>
<rect x="1769" y="3283" width="1125" height="141" fill="#f2f2f2"/>
<g fill="#161616" filter="url(#bl)">
<ellipse cx="1963" cy="3200" rx="26" ry="4" fill-opacity=".03"/>
<ellipse cx="2040" cy="3199" rx="26" ry="4" fill-opacity=".07"/>
<ellipse cx="2115" cy="3198" rx="26" ry="4" fill-opacity=".1"/>
<ellipse cx="2193" cy="3197" rx="26" ry="4" fill-opacity=".1"/>
<ellipse cx="2270" cy="3197" rx="26" ry="4" fill-opacity=".08"/>
<ellipse cx="2350" cy="3196" rx="26" ry="5" fill-opacity=".13"/>
<ellipse cx="2437" cy="3196" rx="30" ry="9" fill-opacity="1"/>
<ellipse cx="2523" cy="3200" rx="30" ry="7" fill-opacity=".85"/>
<ellipse cx="2608" cy="3203" rx="24" ry="4" fill-opacity=".05"/>
<ellipse cx="2690" cy="3205" rx="24" ry="4" fill-opacity=".04"/>
<ellipse cx="2769" cy="3205" rx="24" ry="4" fill-opacity=".05"/>
<ellipse cx="2850" cy="3203" rx="24" ry="4" fill-opacity=".03"/>
</g>
<g fill="#161616" filter="url(#bl)">
<ellipse cx="1801" cy="3357" rx="32" ry="9" fill-opacity=".95"/>
<ellipse cx="1882" cy="3356" rx="30" ry="9" fill-opacity=".9"/>
<ellipse cx="1963" cy="3350" rx="30" ry="8" fill-opacity=".9"/>
<ellipse cx="2040" cy="3343" rx="30" ry="8" fill-opacity=".85"/>
<ellipse cx="2115" cy="3342" rx="30" ry="8" fill-opacity=".85"/>
<ellipse cx="2193" cy="3341" rx="30" ry="8" fill-opacity=".85"/>
<ellipse cx="2270" cy="3341" rx="30" ry="8" fill-opacity=".85"/>
<ellipse cx="2350" cy="3341" rx="30" ry="8" fill-opacity=".85"/>
<ellipse cx="2437" cy="3345" rx="30" ry="7" fill-opacity=".65"/>
<ellipse cx="2523" cy="3346" rx="30" ry="7" fill-opacity=".65"/>
<ellipse cx="2608" cy="3348" rx="30" ry="8" fill-opacity=".8"/>
<ellipse cx="2690" cy="3350" rx="30" ry="8" fill-opacity=".75"/>
<ellipse cx="2769" cy="3350" rx="30" ry="8" fill-opacity=".85"/>
<ellipse cx="2850" cy="3347" rx="32" ry="9" fill-opacity=".95"/>
</g>
<g fill="none" stroke="#000" stroke-width="6">
<rect x="1772" y="3140" width="1119" height="113" rx="2"/>
<rect x="1772" y="3286" width="1119" height="135" rx="2"/>
</g>
<g font-size="36" fill="#000">
<text x="1696" y="3232" textLength="37" lengthAdjust="spacingAndGlyphs">25</text>
<text x="1696" y="3384" textLength="37" lengthAdjust="spacingAndGlyphs">25</text>
</g>
<path d="M1746 3219H1772M1746 3371H1772" stroke="#000" stroke-width="6"/>
<g class="b" font-size="53">
<text x="2913" y="3212">GST-pT320-PP1</text>
<text x="2913" y="3367">GST-PP1</text>
</g>
</svg>
</body></html>
